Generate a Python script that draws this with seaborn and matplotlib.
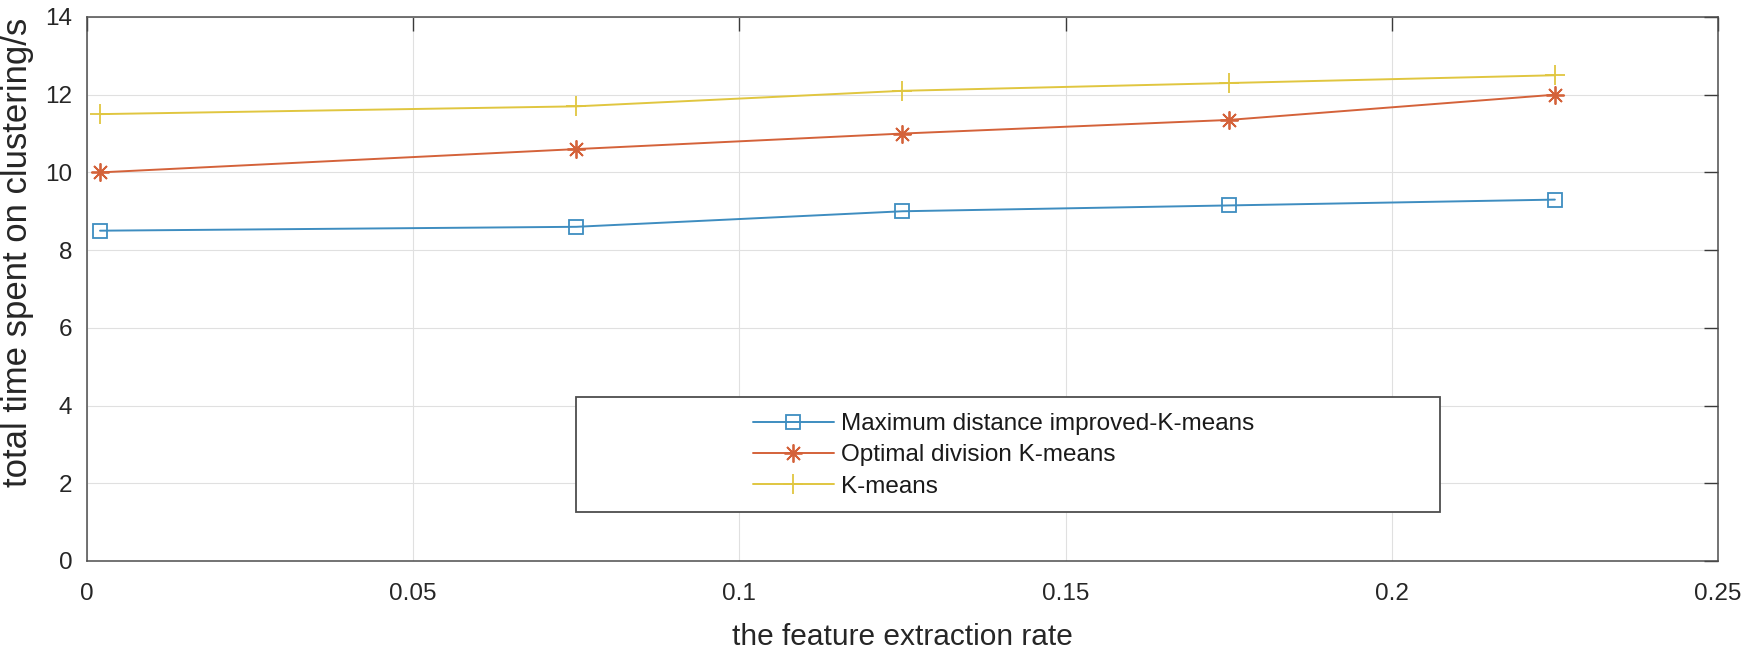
import numpy as np
import pandas as pd
import matplotlib
matplotlib.use("Agg")
import matplotlib.pyplot as plt
from matplotlib.patches import Rectangle
import seaborn as sns

# ---- data ----
x_rate = [0.002, 0.075, 0.125, 0.175, 0.225]
max_dist_improved = [8.5, 8.6, 9.0, 9.15, 9.3]
optimal_division = [10.0, 10.6, 11.0, 11.35, 12.0]
kmeans_plain = [11.5, 11.7, 12.1, 12.3, 12.5]
series_names = ["Maximum distance improved-K-means",
                "Optimal division K-means",
                "K-means"]
x_ticks = [0, 0.05, 0.1, 0.15, 0.2, 0.25]
x_tick_labels = ["0", "0.05", "0.1", "0.15", "0.2", "0.25"]
y_ticks = [0, 2, 4, 6, 8, 10, 12, 14]
y_tick_labels = ["0", "2", "4", "6", "8", "10", "12", "14"]
x_label = "the feature extraction rate"
y_label = "total time spent on clustering/s"

sns.set_theme(style="white")
plt.rcParams["font.family"] = ["Liberation Sans", "DejaVu Sans"]

fig = plt.figure(figsize=(17.5, 6.48), dpi=100)
ax = fig.add_axes([0.0497, 0.1343, 0.9320, 0.8395])

colors = ["#3E8DC0", "#D4623A", "#E0C640"]
markers = ["s", (8, 2, 0), "+"]
msizes = [9.5, 13, 15]
values = [max_dist_improved, optimal_division, kmeans_plain]

for name, vals, c, m, ms in zip(series_names, values, colors, markers, msizes):
    df = pd.DataFrame({"x": x_rate, "y": vals})
    sns.lineplot(data=df, x="x", y="y", ax=ax, color=c, marker=m,
                 markersize=ms, markerfacecolor="none", markeredgecolor=c,
                 markeredgewidth=1.3, linewidth=1.4, label=name,
                 legend=False, zorder=3)

ax.set_xlim(0, 0.25)
ax.set_ylim(0, 14)
ax.set_xticks(x_ticks)
ax.set_xticklabels(x_tick_labels)
ax.set_yticks(y_ticks)
ax.set_yticklabels(y_tick_labels)

ax.grid(True, color="#e0e0e0", linewidth=0.8)
ax.set_axisbelow(True)
for s in ax.spines.values():
    s.set_visible(True)
    s.set_color("#4d4d4d")
    s.set_linewidth(1.1)

ax.tick_params(axis="both", direction="in", length=10, width=1.0,
               color="#3a3a3a", labelcolor="#262626", labelsize=17.5,
               top=True, right=True)
ax.tick_params(axis="x", pad=15.5)
ax.tick_params(axis="y", pad=10.5)

ax.set_xlabel(x_label, fontsize=21.5, color="#262626")
ax.set_ylabel(y_label, fontsize=25, color="#262626")
ax.xaxis.set_label_coords(0.5, -0.114)
ax.yaxis.set_label_coords(-0.0325, 0.568)

# legend box (MATLAB style: wide box, entries offset to the right)
box = Rectangle((0.2998, 0.0901), 0.5298, 0.2114, transform=ax.transAxes,
                facecolor="white", edgecolor="#4d4d4d", linewidth=1.3,
                zorder=5)
ax.add_patch(box)
handles, labels = ax.get_legend_handles_labels()
leg = ax.legend(handles, labels, loc="center left",
                bbox_to_anchor=(0.4083, 0.194), bbox_transform=ax.transAxes,
                frameon=False, fontsize=17.5, borderpad=0, borderaxespad=0,
                handlelength=3.33, handletextpad=0.3, labelspacing=0.38,
                numpoints=1)
leg.set_zorder(6)
for t in leg.get_texts():
    t.set_color("#1a1a1a")

fig.savefig("out.png", dpi=100, facecolor="white")
